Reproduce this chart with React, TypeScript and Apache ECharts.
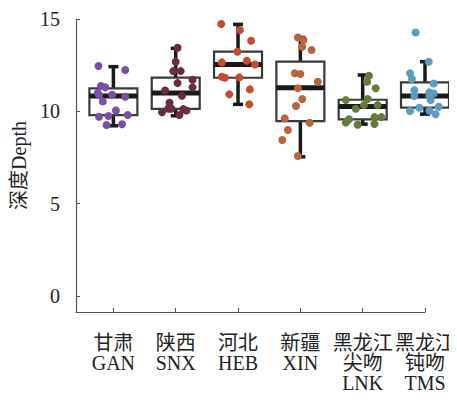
import React, { useEffect, useRef } from "react";
import * as echarts from "echarts";

const categories = ["甘肃\nGAN", "陕西\nSNX", "河北\nHEB", "新疆\nXIN", "黑龙江\n尖吻\nLNK", "黑龙江\n钝吻\nTMS"];
const colors = ["#7b4ea8", "#6b2b43", "#c84b31", "#b6653d", "#637c3e", "#5b9bc0"];
const yTicks = [0, 5, 10, 15];
const evenCats = [0, 2, 4];
const oddCats = [1, 3, 5];

// [low, q1, median, q3, high]
const boxStats = [
  [9.22, 9.8, 10.83, 11.25, 12.42],
  [9.76, 10.13, 10.99, 11.83, 13.41],
  [10.38, 11.82, 12.54, 13.23, 14.71],
  [7.54, 9.47, 11.28, 12.69, 14.0],
  [9.31, 9.57, 10.26, 10.63, 11.97],
  [9.85, 10.2, 10.83, 11.57, 12.69],
];

// [jitter offset (category units), depth]
const ptsGAN = [[-0.24, 12.46], [0.19, 12.24], [-0.2, 11.37], [-0.13, 11.3], [-0.25, 11.0], [-0.23, 10.88], [-0.02, 10.9], [0.19, 10.79], [-0.17, 10.54], [0.04, 10.05], [-0.23, 9.71], [-0.08, 9.75], [0.23, 9.8], [-0.11, 9.26], [0.14, 9.3]];
const ptsSNX = [[0.03, 13.44], [0.0, 12.69], [-0.04, 12.18], [0.08, 12.18], [0.03, 11.53], [0.27, 11.71], [0.27, 11.3], [-0.17, 11.13], [0.1, 10.85], [-0.1, 10.47], [-0.12, 10.14], [-0.07, 10.14], [-0.22, 9.95], [0.12, 10.12], [0.17, 10.05], [0.06, 9.8]];
const ptsHEB = [[-0.27, 14.73], [0.03, 14.4], [0.21, 13.82], [-0.01, 13.23], [-0.26, 12.65], [0.14, 12.74], [0.27, 12.54], [-0.26, 11.87], [-0.21, 11.82], [0.02, 11.84], [0.19, 11.19], [-0.14, 10.92], [0.18, 10.38]];
const ptsXIN = [[-0.04, 14.0], [0.05, 13.86], [0.03, 13.5], [0.18, 13.32], [-0.09, 12.06], [0.0, 12.02], [0.28, 11.6], [-0.04, 11.25], [0.03, 10.67], [-0.07, 10.29], [-0.25, 9.62], [0.15, 9.38], [-0.2, 8.99], [-0.29, 8.45], [-0.04, 7.58]];
const ptsLNK = [[0.1, 11.93], [0.07, 11.6], [0.21, 11.25], [-0.27, 10.61], [0.08, 10.67], [0.02, 10.34], [0.24, 10.34], [-0.11, 10.14], [-0.22, 9.57], [-0.27, 9.4], [0.19, 9.69], [0.3, 9.69], [-0.08, 9.28], [0.19, 9.32]];
const ptsTMS = [[-0.15, 14.27], [0.06, 12.69], [-0.24, 12.06], [-0.21, 11.75], [0.14, 11.51], [-0.17, 11.15], [0.07, 11.03], [0.14, 10.97], [-0.17, 10.83], [0.07, 10.83], [0.09, 10.61], [-0.24, 10.02], [-0.09, 10.2], [0.07, 10.03], [0.22, 10.25], [0.17, 9.84]];
const points = [ptsGAN, ptsSNX, ptsHEB, ptsXIN, ptsLNK, ptsTMS];

const FONT = "'Liberation Serif', 'Times New Roman', 'Noto Sans CJK SC', serif";

export default function App() {
  const ref = useRef<HTMLDivElement>(null);
  useEffect(() => {
    if (!ref.current) return;
    const chart = echarts.init(ref.current, null, { renderer: "svg" });
    const boxData = boxStats.map((s, i) => [i, ...s]);
    const labelStyle = {
      formatter: (v: number) => categories[Math.round(v)],
      showMaxLabel: true,
      showMinLabel: true,
      hideOverlap: false,
      fontSize: 20,
      lineHeight: 20,
      margin: 21,
      color: "#222",
      fontFamily: FONT,
    };
    const option: any = {
      animation: false,
      grid: { left: 68, right: 32, top: 11, bottom: 88, outerBoundsMode: "none" },
      xAxis: [
        {
          type: "value",
          min: -0.6,
          max: 5,
          position: "bottom",
          splitLine: { show: false },
          axisLine: { show: true, onZero: false, lineStyle: { color: "#555", width: 1.2 } },
          axisTick: { show: true, inside: true, length: 4, customValues: [0, 1, 2, 3, 4, 5], lineStyle: { color: "#555" } },
          axisLabel: { ...labelStyle, customValues: evenCats },
        },
        {
          type: "value",
          min: -0.6,
          max: 5,
          position: "bottom",
          offset: 0,
          splitLine: { show: false },
          axisLine: { show: false, onZero: false },
          axisTick: { show: false },
          axisLabel: { ...labelStyle, customValues: oddCats },
        },
      ],
      yAxis: {
        type: "value",
        min: -0.86,
        max: 15,
        splitLine: { show: false },
        name: "深度Depth",
        nameLocation: "middle",
        nameGap: 44,
        nameTextStyle: { fontSize: 20, color: "#222", fontFamily: FONT },
        axisLine: { show: true, onZero: false, lineStyle: { color: "#555", width: 1.2 } },
        axisTick: { show: true, inside: true, length: 4, customValues: yTicks, lineStyle: { color: "#555" } },
        axisLabel: {
          customValues: yTicks,
          fontSize: 20,
          margin: 16,
          color: "#222",
          fontFamily: FONT,
        },
      },
      series: [
        {
          type: "custom",
          data: boxData,
          clip: false,
          z: 1,
          renderItem: (params: any, api: any) => {
            const i = api.value(0);
            const low = api.coord([i, api.value(1)]);
            const q1 = api.coord([i, api.value(2)]);
            const med = api.coord([i, api.value(3)]);
            const q3 = api.coord([i, api.value(4)]);
            const high = api.coord([i, api.value(5)]);
            const w = api.size([1, 0])[0] * 0.77;
            const cap = 10;
            const cx = low[0];
            return {
              type: "group",
              children: [
                { type: "line", shape: { x1: cx, y1: q3[1], x2: cx, y2: high[1] }, style: { stroke: "#1a1a1a", lineWidth: 3.5 } },
                { type: "line", shape: { x1: cx, y1: q1[1], x2: cx, y2: low[1] }, style: { stroke: "#1a1a1a", lineWidth: 3.5 } },
                { type: "line", shape: { x1: cx - cap / 2, y1: high[1], x2: cx + cap / 2, y2: high[1] }, style: { stroke: "#1a1a1a", lineWidth: 3.5 } },
                { type: "line", shape: { x1: cx - cap / 2, y1: low[1], x2: cx + cap / 2, y2: low[1] }, style: { stroke: "#1a1a1a", lineWidth: 3.5 } },
                { type: "rect", shape: { x: cx - w / 2, y: q3[1], width: w, height: q1[1] - q3[1] }, style: { fill: "#fff", stroke: "#3a3a3a", lineWidth: 2.2 } },
                { type: "line", shape: { x1: cx - w / 2, y1: med[1], x2: cx + w / 2, y2: med[1] }, style: { stroke: "#1a1a1a", lineWidth: 5 } },
              ],
            };
          },
        },
        ...points.map((pts, i) => ({
          type: "scatter",
          clip: false,
          z: 3,
          symbolSize: 8,
          itemStyle: { color: colors[i], opacity: 1 },
          data: pts.map((p) => [i + p[0], p[1]]),
        })),
      ],
    };
    chart.setOption(option);
    return () => chart.dispose();
  }, []);
  return <div ref={ref} style={{ width: 449, height: 392 }} />;
}
